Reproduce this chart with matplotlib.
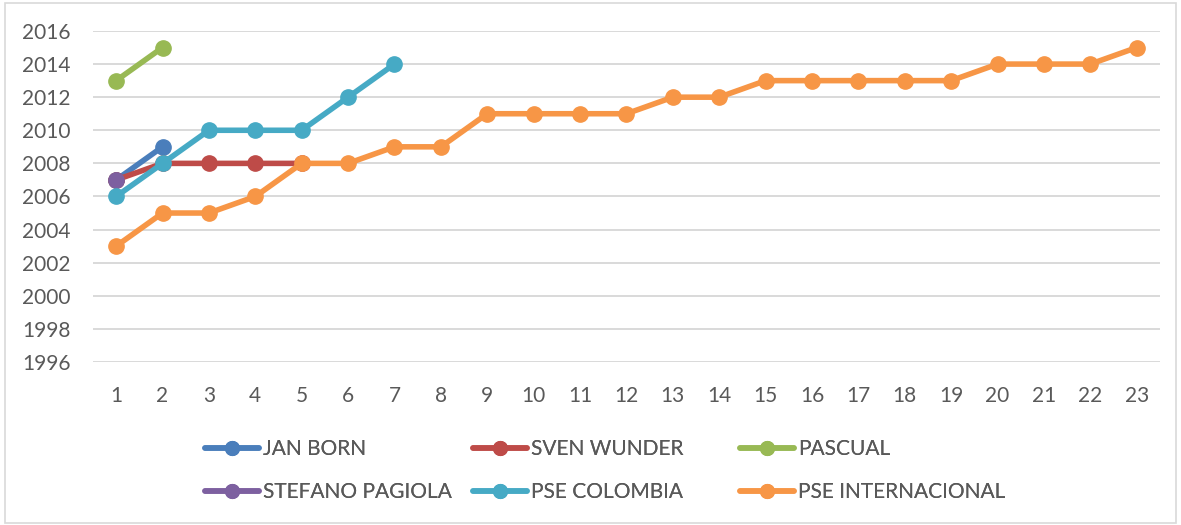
import matplotlib.pyplot as plt
from matplotlib.patches import Rectangle

plt.rcParams['font.family'] = ['Lato', 'DejaVu Sans']

# series (x = position 1..n, y = year)
jan_born = [2007, 2009]
sven_wunder = [2007, 2008, 2008, 2008, 2008]
pascual = [2013, 2015]
stefano_pagiola = [2007]
pse_colombia = [2006, 2008, 2010, 2010, 2010, 2012, 2014]
pse_internacional = [2003, 2005, 2005, 2006, 2008, 2008, 2009, 2009, 2011, 2011, 2011, 2011,
                     2012, 2012, 2013, 2013, 2013, 2013, 2013, 2014, 2014, 2014, 2015]

names = ['JAN BORN', 'SVEN WUNDER', 'PASCUAL', 'STEFANO PAGIOLA', 'PSE COLOMBIA', 'PSE INTERNACIONAL']
series = [jan_born, sven_wunder, pascual, stefano_pagiola, pse_colombia, pse_internacional]
colors = ['#4a7ebb', '#be4b48', '#98b954', '#7d60a0', '#46aac5', '#f79646']

gray = '#595959'
grid = '#d9d9d9'

fig = plt.figure(figsize=(11.81, 5.25), dpi=100)
ax = fig.add_axes([0.0787, 0.3105, 0.9035, 0.6305])

handles = {}
for name, vals, c in zip(names, series, colors):
    xs = list(range(1, len(vals) + 1))
    h, = ax.plot(xs, vals, color=c, lw=4, marker='o', ms=11, solid_capstyle='round',
                 label=name)
    handles[name] = h

ax.set_xlim(0.5, 23.5)
ax.set_ylim(1996, 2016)
ax.set_xticks(range(1, 24))
ax.set_yticks(range(1996, 2017, 2))
ax.grid(axis='y', color=grid, lw=1.4)
ax.set_axisbelow(True)
for s in ax.spines.values():
    s.set_visible(False)
ax.tick_params(length=0, labelsize=15, colors=gray)
ax.tick_params(axis='x', pad=17)
ax.tick_params(axis='y', pad=16)

# legend: three columns of two rows each
cols = [['JAN BORN', 'STEFANO PAGIOLA'], ['SVEN WUNDER', 'PSE COLOMBIA'],
        ['PASCUAL', 'PSE INTERNACIONAL']]
col_x = [205, 473, 740]
for cx, col in zip(col_x, cols):
    leg = fig.legend([handles[n] for n in col], col, loc='center left',
                     bbox_to_anchor=(cx / 1181, 1 - 470.5 / 525), frameon=False, fontsize=15,
                     handlelength=2.6, handletextpad=0.2, labelspacing=1.1,
                     borderpad=0, borderaxespad=0, markerscale=0.9)
    for t in leg.get_texts():
        t.set_color(gray)
    fig.add_artist(leg)

fig.patches.append(Rectangle((0.004, 0.004), 0.992, 0.99, transform=fig.transFigure,
                             fill=False, edgecolor=grid, lw=1.2))

fig.savefig('out.png', dpi=100)
